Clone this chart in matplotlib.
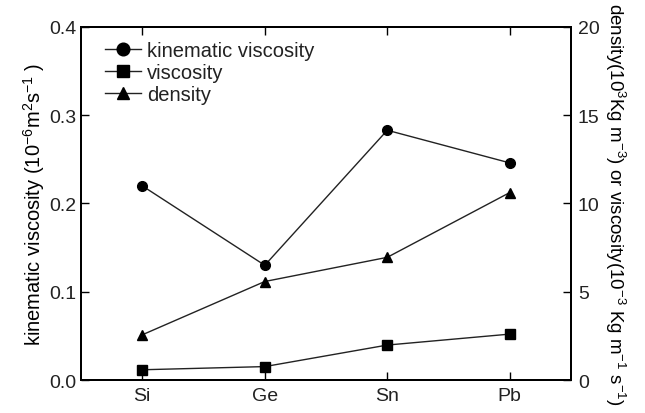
import matplotlib
matplotlib.use("Agg")
import matplotlib.pyplot as plt

plt.rcParams['font.family'] = ['Liberation Sans', 'DejaVu Sans']
plt.rcParams['mathtext.fontset'] = 'custom'
plt.rcParams['mathtext.rm'] = 'Liberation Sans'
plt.rcParams['mathtext.it'] = 'Liberation Sans'
plt.rcParams['text.color'] = '#222222'
plt.rcParams['xtick.labelcolor'] = '#222222'
plt.rcParams['ytick.labelcolor'] = '#222222'

# liquid metals
elements = ['Si', 'Ge', 'Sn', 'Pb']
kinematic_viscosity = [0.22, 0.13, 0.283, 0.246]   # 10^-6 m^2 s^-1
viscosity = [0.58, 0.76, 1.98, 2.6]                # 10^-3 kg m^-1 s^-1
density = [2.56, 5.58, 6.95, 10.62]                # 10^3 kg m^-3

x = list(range(len(elements)))
line_kw = dict(color='#222222', lw=1.0, markersize=7, markeredgecolor='black', markerfacecolor='black')

fig = plt.figure(figsize=(6.45, 4.14), dpi=100)
ax = fig.add_axes([0.1256, 0.0797, 0.7597, 0.8527])
ax2 = ax.twinx()

l1, = ax.plot(x, kinematic_viscosity, marker='o', label='kinematic viscosity', **line_kw)
l2, = ax2.plot(x, viscosity, marker='s', label='viscosity', **line_kw)
l3, = ax2.plot(x, density, marker='^', label='density', **line_kw)

ax.set_xlim(-0.5, 3.5)
ax.set_ylim(0, 0.4)
ax.set_yticks([0.0, 0.1, 0.2, 0.3, 0.4])
ax.set_yticklabels(['0.0', '0.1', '0.2', '0.3', '0.4'])
ax2.set_ylim(0, 20)
ax2.set_yticks([0, 5, 10, 15, 20])
ax.set_xticks(x)
ax.set_xticklabels(elements)

ax.tick_params(axis='x', direction='in', top=True, length=6, width=1, labelsize=14, pad=5)
ax.tick_params(axis='y', direction='in', length=6, width=1, labelsize=14, pad=3)
ax2.tick_params(axis='y', direction='in', length=6, width=1, labelsize=14, pad=5)

for a in (ax, ax2):
    for s in a.spines.values():
        s.set_linewidth(1.4)

ax.set_ylabel('kinematic viscosity (10$^{-6}$m$^{2}$s$^{-1}$ )', fontsize=14.5, labelpad=2)
ax2.set_ylabel('density(10$^{3}$Kg m$^{-3}$) or viscosity(10$^{-3}$ Kg m$^{-1}$ s$^{-1}$)',
               fontsize=13.5, rotation=270, labelpad=20)

ax.legend(handles=[l1, l2, l3], loc='upper left', frameon=False, fontsize=14.5,
          markerscale=1.3, handlelength=1.8, handletextpad=0.3, labelspacing=0.15,
          borderaxespad=0.3, bbox_to_anchor=(0.02, 1.0))

fig.savefig('out.png', dpi=100)
